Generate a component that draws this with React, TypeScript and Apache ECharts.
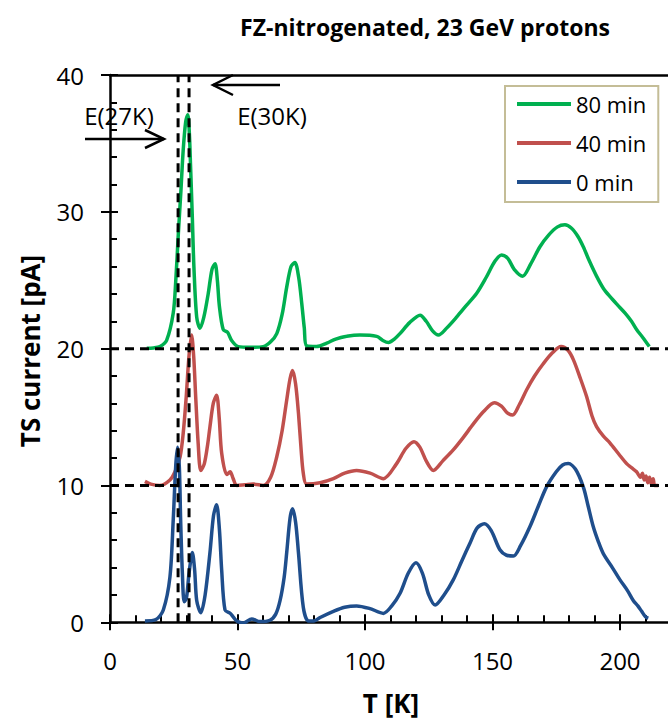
import React, { useEffect, useRef } from "react";
import * as echarts from "echarts";

// Thermally stimulated current spectra, T [K] vs current [pA]; the 40 min and
// 80 min curves are drawn shifted up by 10 pA and 20 pA.
const curve0min: [number, number][] = [
  [13.7, 0.1], [18, 0.2], [20.9, 0.9], [23.5, 3.3], [24.8, 7.5], [25.8, 11.5], [26.5, 12.8],
  [27.2, 11.3], [27.7, 7.5], [28.4, 3.5], [29.1, 1.5], [30, 1.8], [31, 3.6], [32.3, 5.1],
  [33.2, 3.8], [34.0, 1.6], [35.6, 0.7], [37.3, 2], [39.2, 5.1], [40.6, 7.8], [41.8, 8.6],
  [42.9, 6.8], [43.8, 3.8], [45.1, 0.9], [47.1, 0.66], [48.3, 0.4], [49.7, 0.1], [52.3, -0.05],
  [55.6, 0.25], [58.8, 0.05], [62.7, 0.15], [65, 0.6], [66.7, 1.6], [68.3, 3.3], [69.3, 5.1],
  [70.6, 7.6], [71.6, 8.3], [72.8, 7.3], [73.9, 5.1], [75.8, 1.1], [77.8, 0.1], [80, 0.1],
  [82.4, 0.35], [87.6, 0.8], [92, 1.1], [96.7, 1.2], [102, 1.0], [107.2, 0.65], [110.5, 1.2],
  [113.7, 2.1], [117, 3.6], [120, 4.35], [122.5, 3.6], [125, 2.0], [127.5, 1.26], [131, 2.0],
  [134.6, 3.1], [138, 4.5], [141.2, 5.8], [144, 6.9], [146.8, 7.2], [149.5, 6.7], [152.9, 5.3],
  [155.5, 4.9], [158.2, 4.85], [161, 5.6], [164.7, 7.0], [168, 8.5], [171.2, 9.9], [175, 11.0],
  [177.5, 11.5], [179.7, 11.6], [182.5, 11.2], [185.6, 9.9], [187.5, 8.5], [189.5, 7.0],
  [191.5, 5.9], [193.5, 5.0], [197, 4.0], [200, 3.1], [203, 2.3], [205.2, 1.6], [207, 1.2],
  [208.5, 0.8], [210, 0.4], [211.1, 0.3],
];

const curve40min: [number, number][] = [
  [13.7, 10.3], [16, 10.1], [19.6, 10.0], [23.5, 10.4], [25.5, 11.0], [27.5, 12.1], [28.7, 13.8],
  [29.8, 16.25], [31, 19.5], [32.0, 21.0], [32.8, 19.5], [33.6, 16.5], [34.6, 13.0], [35.6, 11.1],
  [37, 11.6], [38.3, 13.0], [39.2, 14.3], [40.5, 16.0], [41.8, 16.6], [42.8, 15.0], [43.8, 12.35],
  [45.8, 10.8], [47.1, 11.0], [48.3, 10.5], [49.7, 10.0], [53, 10.05], [56.2, 10.1], [60.1, 10.0],
  [63, 10.6], [65.4, 12.1], [67.5, 14.0], [69.3, 16.25], [70.6, 17.8], [71.6, 18.4], [72.8, 17.4],
  [73.9, 15.3], [75, 12.5], [75.8, 10.9], [77.1, 10.1], [82.4, 10.2], [87.6, 10.5], [92, 10.9],
  [96.7, 11.1], [102, 10.9], [107.2, 10.5], [112.4, 11.6], [116, 12.7], [119.2, 13.2],
  [121.5, 12.8], [124, 11.8], [126.8, 11.1], [130.5, 11.8], [134.6, 12.6], [138.5, 13.5],
  [142.5, 14.5], [146.5, 15.4], [150.7, 16.05], [153.5, 15.8], [155.8, 15.3], [157.9, 15.15],
  [160.5, 15.9], [163.4, 17.0], [166.5, 18.0], [169.9, 18.9], [173.5, 19.7], [176.9, 20.15],
  [179.5, 19.9], [181.7, 19.2], [184.5, 17.8], [186.9, 16.5], [189, 15.1], [190.8, 14.3],
  [193.5, 13.6], [196.1, 13.1], [199.5, 12.3], [202.6, 11.6], [204.5, 11.3], [206.5, 11.0],
  [208, 10.6], [208.8, 10.9], [209.5, 10.4], [210.2, 10.7], [210.9, 10.2], [211.6, 10.6],
  [212.3, 10.1], [213, 10.5], [213.6, 10.0], [215, 10.0],
];

const curve80min: [number, number][] = [
  [14.4, 20.03], [17, 20.05], [19.6, 20.15], [22.2, 20.6], [24.8, 22.6], [25.8, 25.0],
  [26.8, 28.4], [27.8, 31.5], [28.7, 34.5], [29.7, 36.6], [30.5, 37.1], [31.1, 35.8],
  [31.6, 33.3], [32.3, 29.5], [32.9, 26.0], [34.0, 22.3], [35.3, 21.5], [36.8, 22.3],
  [38.5, 24.0], [40, 25.8], [41.2, 26.2], [42.1, 25.0], [42.9, 23.1], [44.4, 21.4], [46.1, 21.2],
  [47.7, 20.6], [50.3, 20.15], [55, 20.1], [60.1, 20.15], [63, 20.5], [65.4, 21.1], [67.5, 22.5],
  [69.3, 24.5], [71, 26.0], [72.5, 26.3], [74, 25.2], [75.2, 23.3], [76.2, 21.5], [77.1, 20.2],
  [81, 20.15], [85, 20.4], [88.5, 20.7], [92.8, 20.9], [98, 21.0], [104.6, 20.9], [107, 20.6],
  [109.2, 20.45], [111.5, 20.7], [113.7, 21.1], [117.5, 21.9], [121.6, 22.45], [124, 22.0],
  [126.5, 21.3], [128.8, 21.0], [132, 21.5], [135.9, 22.3], [139.5, 23.1], [143.8, 24.05],
  [147.5, 25.2], [151, 26.4], [153.6, 26.85], [156, 26.6], [158.5, 25.8], [161.8, 25.3],
  [165, 26.2], [168.6, 27.45], [172, 28.3], [175.5, 28.9], [178.4, 29.05], [181, 28.8],
  [183.5, 28.2], [185.6, 27.45], [188, 26.4], [190.8, 25.3], [193.5, 24.4], [196.1, 23.8],
  [199, 23.2], [202, 22.6], [204.5, 22.0], [206.5, 21.4], [209, 20.8], [211.5, 20.15],
];

const seriesNames = ["80 min", "40 min", "0 min"];
const seriesColors = ["#00b050", "#c0504d", "#1f4e8c"];

// Baselines of the shifted curves and the two energy marker temperatures
const baselines = [10, 20];
const markerTemps = [26.7, 31];

const X_MIN = 0;
const X_MAX = 250;
const Y_MIN = 0;
const Y_MAX = 40;

const FONT = "'Open Sans', 'Noto Sans', sans-serif";

export default function App() {
  const ref = useRef<HTMLDivElement>(null);

  useEffect(() => {
    if (!ref.current) return;
    const chart = echarts.init(ref.current, undefined, { renderer: "svg" });

    const gridLeft = 110;
    const gridTop = 75;
    const gridHeight = 547.3;
    const gridWidth = 2.55 * (X_MAX - X_MIN);

    const curveSeries = [curve80min, curve40min, curve0min].map((data, i) => ({
      name: seriesNames[i],
      type: "line",
      data,
      xAxisIndex: 0,
      yAxisIndex: 0,
      showSymbol: false,
      symbol: "none",
      smooth: 0.3,
      lineStyle: { color: seriesColors[i], width: 3.5 },
      itemStyle: { color: seriesColors[i] },
      z: 2,
    }));

    const guideStyle = { color: "#000", width: 3, type: [9, 6] as number[] };
    const guideSeries = [
      ...baselines.map((v) => ({
        type: "line",
        data: [[X_MIN, v], [X_MAX, v]],
        symbol: "none",
        silent: true,
        lineStyle: guideStyle,
        z: 3,
      })),
      ...markerTemps.map((t) => ({
        type: "line",
        data: [[t, Y_MIN], [t, Y_MAX]],
        symbol: "none",
        silent: true,
        lineStyle: guideStyle,
        z: 3,
      })),
    ];

    const axisLineStyle = { color: "#000", width: 2.5 };
    const tickStyle = { color: "#000", width: 2 };

    chart.setOption({
      animation: false,
      backgroundColor: "#fff",
      title: {
        text: "FZ-nitrogenated, 23 GeV protons",
        left: 420,
        top: 10,
        textAlign: "center",
        textStyle: { fontFamily: FONT, fontSize: 23, fontWeight: "bold", color: "#000" },
      },
      legend: {
        data: seriesNames,
        orient: "vertical",
        left: 505,
        top: 86,
        padding: [5, 12, 7, 12],
        itemGap: 13,
        itemWidth: 54,
        itemHeight: 4,
        icon: "rect",
        borderColor: "#c4bd97",
        borderWidth: 2,
        textStyle: { fontFamily: FONT, fontSize: 22, color: "#000", lineHeight: 26 },
      },
      grid: {
        left: gridLeft,
        top: gridTop,
        width: gridWidth,
        height: gridHeight,
        outerBoundsMode: "none",
        containLabel: false,
      },
      xAxis: [
        {
          type: "value",
          min: X_MIN,
          max: X_MAX,
          interval: 50,
          position: "bottom",
          axisLine: { show: true, onZero: false, lineStyle: axisLineStyle },
          axisTick: { show: true, inside: true, length: 8, lineStyle: tickStyle },
          minorTick: { show: true, splitNumber: 5, length: 7, lineStyle: tickStyle },
          splitLine: { show: false },
          axisLabel: {
            fontFamily: FONT,
            fontSize: 24,
            color: "#000",
            margin: 26,
            showMaxLabel: false,
          },
        },
        {
          type: "value",
          min: X_MIN,
          max: X_MAX,
          interval: 50,
          position: "bottom",
          axisLine: { show: false, onZero: false },
          axisTick: { show: true, inside: false, length: 8, lineStyle: tickStyle },
          axisLabel: { show: false },
          splitLine: { show: false },
        },
        {
          type: "value",
          min: X_MIN,
          max: X_MAX,
          position: "top",
          axisLine: { show: true, onZero: false, lineStyle: axisLineStyle },
          axisTick: { show: false },
          axisLabel: { show: false },
          splitLine: { show: false },
        },
      ],
      yAxis: [
        {
          type: "value",
          min: Y_MIN,
          max: Y_MAX,
          interval: 10,
          position: "left",
          axisLine: { show: true, onZero: false, lineStyle: axisLineStyle },
          axisTick: { show: true, inside: true, length: 8, lineStyle: tickStyle },
          minorTick: { show: true, splitNumber: 5, length: 7, lineStyle: tickStyle },
          splitLine: { show: false },
          axisLabel: { fontFamily: FONT, fontSize: 24, color: "#000", margin: 26 },
        },
        {
          type: "value",
          min: Y_MIN,
          max: Y_MAX,
          interval: 10,
          position: "left",
          axisLine: { show: false, onZero: false },
          axisTick: { show: true, inside: false, length: 9, lineStyle: tickStyle },
          axisLabel: { show: false },
          splitLine: { show: false },
        },
      ],
      series: [...curveSeries, ...guideSeries],
      graphic: [
        {
          type: "text",
          x: 30,
          y: 351,
          rotation: Math.PI / 2,
          style: {
            text: "TS current [pA]",
            fontFamily: FONT,
            fontSize: 26,
            fontWeight: "bold",
            fill: "#000",
            align: "center",
            verticalAlign: "middle",
          },
        },
        {
          type: "text",
          x: 391,
          y: 703,
          style: {
            text: "T [K]",
            fontFamily: FONT,
            fontSize: 26,
            fontWeight: "bold",
            fill: "#000",
            align: "center",
            verticalAlign: "middle",
          },
        },
        {
          type: "text",
          x: 119,
          y: 115,
          style: {
            text: "E(27K)",
            fontFamily: FONT,
            fontSize: 24,
            fill: "#000",
            align: "center",
            verticalAlign: "middle",
          },
        },
        {
          type: "text",
          x: 272,
          y: 115,
          style: {
            text: "E(30K)",
            fontFamily: FONT,
            fontSize: 24,
            fill: "#000",
            align: "center",
            verticalAlign: "middle",
          },
        },
        // arrow pointing right towards the 27 K marker
        { type: "line", shape: { x1: 85, y1: 139, x2: 164, y2: 139 }, style: { stroke: "#000", lineWidth: 2.5 } },
        {
          type: "polyline",
          shape: { points: [[145, 130], [164, 139], [145, 148]] },
          style: { stroke: "#000", lineWidth: 2.5, fill: null },
        },
        // arrow pointing left towards the 30 K marker
        { type: "line", shape: { x1: 213, y1: 85, x2: 280, y2: 85 }, style: { stroke: "#000", lineWidth: 2.5 } },
        {
          type: "polyline",
          shape: { points: [[233, 75], [213, 85], [233, 95]] },
          style: { stroke: "#000", lineWidth: 2.5, fill: null },
        },
      ],
    });

    return () => chart.dispose();
  }, []);

  return (
    <div
      ref={ref}
      style={{ position: "absolute", left: 0, top: 0, width: 668, height: 720 }}
    />
  );
}
